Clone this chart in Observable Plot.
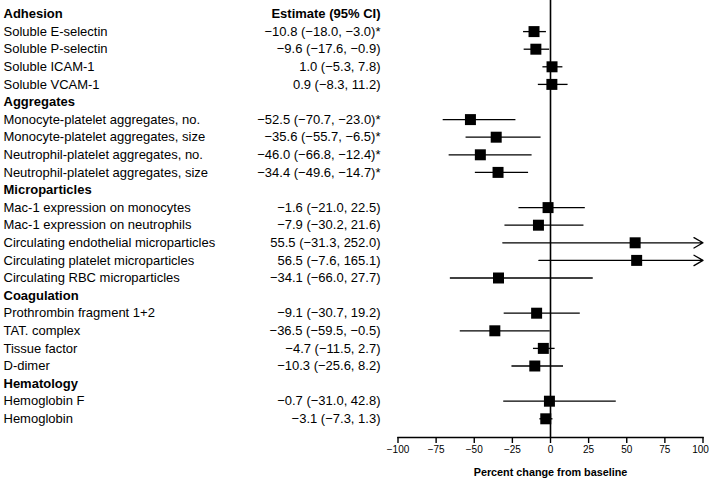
<!DOCTYPE html>
<html>
<head>
<meta charset="utf-8">
<script src="https://cdn.jsdelivr.net/npm/d3@7"></script>
<script src="https://cdn.jsdelivr.net/npm/@observablehq/plot@0.6"></script>
<style>
  html, body { margin: 0; padding: 0; background: white; }
</style>
</head>
<body>
<div id="chart"></div>
<script>
// ---- Data ----
const groups = ["Adhesion", "Aggregates", "Microparticles", "Coagulation", "Hematology"];
const measureGroup = [
  "Adhesion", "Adhesion", "Adhesion", "Adhesion",
  "Aggregates", "Aggregates", "Aggregates", "Aggregates",
  "Microparticles", "Microparticles", "Microparticles", "Microparticles", "Microparticles",
  "Coagulation", "Coagulation", "Coagulation", "Coagulation",
  "Hematology", "Hematology"
];
const measures = [
  "Soluble E-selectin", "Soluble P-selectin", "Soluble ICAM-1", "Soluble VCAM-1",
  "Monocyte-platelet aggregates, no.", "Monocyte-platelet aggregates, size",
  "Neutrophil-platelet aggregates, no.", "Neutrophil-platelet aggregates, size",
  "Mac-1 expression on monocytes", "Mac-1 expression on neutrophils",
  "Circulating endothelial microparticles", "Circulating platelet microparticles",
  "Circulating RBC microparticles",
  "Prothrombin fragment 1+2", "TAT. complex", "Tissue factor", "D-dimer",
  "Hemoglobin F", "Hemoglobin"
];
const estimates = [-10.8, -9.6, 1.0, 0.9, -52.5, -35.6, -46.0, -34.4, -1.6, -7.9, 55.5, 56.5, -34.1, -9.1, -36.5, -4.7, -10.3, -0.7, -3.1];
const lower     = [-18.0, -17.6, -5.3, -8.3, -70.7, -55.7, -66.8, -49.6, -21.0, -30.2, -31.3, -7.6, -66.0, -30.7, -59.5, -11.5, -25.6, -31.0, -7.3];
const upper     = [-3.0, -0.9, 7.8, 11.2, -23.0, -6.5, -12.4, -14.7, 22.5, 21.6, 252.0, 165.1, 27.7, 19.2, -0.5, 2.7, 8.2, 42.8, 1.3];
const significant = [true, false, false, false, true, true, true, true, false, false, false, false, false, false, false, false, false, false, false];
const xTicks = [-100, -75, -50, -25, 0, 25, 50, 75, 100];
const estimateHeader = "Estimate (95% CI)";
const xLabel = "Percent change from baseline";

// ---- Build rows ----
const f = d3.format(".1f");
const fTick = d3.format("d");
const headers = [];
const rows = [];
let r = 0;
for (const g of groups) {
  headers.push({row: r, label: g});
  r++;
  measures.forEach((m, i) => {
    if (measureGroup[i] !== g) return;
    rows.push({
      row: r, label: m, est: estimates[i], lo: lower[i], hi: upper[i],
      text: `${f(estimates[i])} (${f(lower[i])}, ${f(upper[i])})${significant[i] ? "*" : ""}`
    });
    r++;
  });
}
const xMax = d3.max(xTicks);
const inRange = rows.filter(d => d.hi <= xMax);
const overRange = rows.filter(d => d.hi > xMax);

const chart = Plot.plot({
  width: 709,
  height: 485,
  marginLeft: 397.5,
  marginRight: 6.5,
  marginTop: 0,
  marginBottom: 48,
  x: {domain: [d3.min(xTicks), xMax]},
  y: {domain: [0, r - 1], range: [13.5, 418.3], axis: null},
  style: {fontFamily: "'Liberation Sans', Arial, sans-serif", fontSize: "13px", color: "black", background: "white"},
  marks: [
    Plot.ruleX([0], {stroke: "black", strokeWidth: 1.6}),
    Plot.frame({anchor: "bottom", stroke: "black", strokeWidth: 1.4}),
    Plot.axisX({ticks: xTicks, tickSize: 6, tickFormat: () => "", label: null, strokeWidth: 1.4}),
    Plot.text(xTicks.slice(0, -1), {x: d => d, text: d => fTick(d), frameAnchor: "bottom", dy: 15, fontSize: 10, fill: "black"}),
    Plot.text(xTicks.slice(-1), {x: d => d, text: d => fTick(d), frameAnchor: "bottom", dy: 15, dx: -2.5, fontSize: 10, fill: "black"}),
    Plot.link(inRange, {x1: "lo", x2: "hi", y1: "row", y2: "row", stroke: "black", strokeWidth: 1.3}),
    Plot.arrow(overRange, {x1: "lo", x2: () => xMax, y1: "row", y2: "row", stroke: "black", strokeWidth: 1.3, headLength: 12, headAngle: 60}),
    Plot.dot(rows, {x: "est", y: "row", symbol: "square", r: 6.2, fill: "black", stroke: null}),
    Plot.text(headers, {y: "row", text: "label", frameAnchor: "left", dx: -394.5, textAnchor: "start", fontWeight: "bold", fill: "black"}),
    Plot.text(rows, {y: "row", text: "label", frameAnchor: "left", dx: -394.5, textAnchor: "start", fill: "black"}),
    Plot.text([estimateHeader], {y: () => 0, text: d => d, frameAnchor: "left", dx: -17.5, textAnchor: "end", fontWeight: "bold", fill: "black"}),
    Plot.text(rows, {y: "row", text: "text", frameAnchor: "left", dx: -17.5, textAnchor: "end", fill: "black"}),
    Plot.text([xLabel], {text: d => d, frameAnchor: "bottom", dy: 38, fontWeight: "bold", fontSize: 10.8, fill: "black"})
  ]
});
document.getElementById("chart").appendChild(chart);
</script>
</body>
</html>
